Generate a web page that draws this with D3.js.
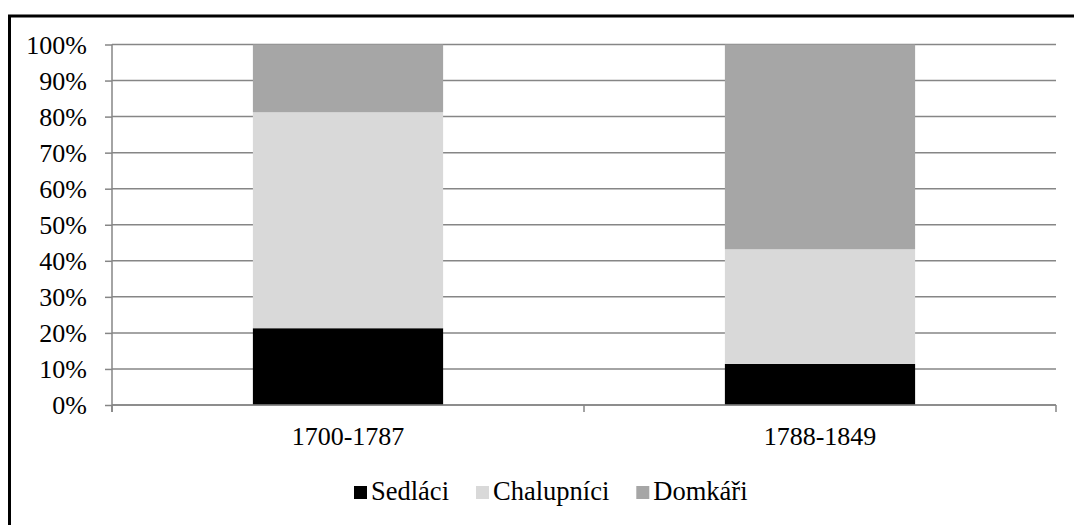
<!DOCTYPE html>
<html>
<head>
<meta charset="utf-8">
<script src="https://cdn.jsdelivr.net/npm/d3@7"></script>
</head>
<body style="margin:0">
<script>
// data
const categories = ['1700-1787', '1788-1849'];
const seriesNames = ['Sedláci', 'Chalupníci', 'Domkáři'];
const sedlaci = [21.3, 11.4];
const chalupnici = [59.9, 31.8];
const domkari = [18.8, 56.8];
const yTicks = [0, 10, 20, 30, 40, 50, 60, 70, 80, 90, 100];

const colors = ['#000000', '#d9d9d9', '#a6a6a6'];
const width = 1074;
const height = 525;
const plot = { left: 112, right: 1056, top: 44.5, bottom: 405 };

const svg = d3.select('body')
  .append('svg')
  .attr('width', width)
  .attr('height', height)
  .attr('font-family', 'Liberation Serif');

// outer frame (right and bottom edges run off the picture)
svg.append('rect')
  .attr('x', 9.5)
  .attr('y', 16)
  .attr('width', 1200)
  .attr('height', 700)
  .attr('fill', 'none')
  .attr('stroke', '#000')
  .attr('stroke-width', 3);

// scales
const xScale = d3.scaleBand()
  .domain(categories)
  .range([plot.left, plot.right])
  .paddingInner(0.597)
  .paddingOuter(0.2985);

const yScale = d3.scaleLinear()
  .domain([0, 100])
  .range([plot.bottom, plot.top]);

// gridlines
svg.append('g')
  .selectAll('line')
  .data(yTicks)
  .enter()
  .append('line')
  .attr('x1', plot.left)
  .attr('x2', plot.right)
  .attr('y1', d => yScale(d))
  .attr('y2', d => yScale(d))
  .attr('stroke', '#868686')
  .attr('stroke-width', 1.5);

// stacked bars
const rows = categories.map((c, i) => ({
  cat: c,
  'Sedláci': sedlaci[i],
  'Chalupníci': chalupnici[i],
  'Domkáři': domkari[i]
}));
const stacked = d3.stack().keys(seriesNames)(rows);

svg.append('g')
  .selectAll('g')
  .data(stacked)
  .enter()
  .append('g')
  .attr('fill', (d, i) => colors[i])
  .selectAll('rect')
  .data(d => d)
  .enter()
  .append('rect')
  .attr('x', d => xScale(d.data.cat))
  .attr('y', d => yScale(d[1]))
  .attr('width', xScale.bandwidth())
  .attr('height', d => yScale(d[0]) - yScale(d[1]));

// y axis
const yAxis = svg.append('g')
  .attr('transform', `translate(${plot.left},0)`)
  .call(d3.axisLeft(yScale).tickValues(yTicks).tickSize(7).tickPadding(18).tickFormat(d => d + '%'));
yAxis.attr('font-family', 'Liberation Serif').attr('font-size', 26);
yAxis.selectAll('line, path').attr('stroke', '#868686').attr('stroke-width', 1.5);
yAxis.select('.domain').attr('d', `M0,${plot.top}V${plot.bottom + 7}`);
yAxis.selectAll('text')
  .attr('dy', '0.34em')
  .attr('fill', '#000');

// x axis: category boundaries get the ticks
const bounds = [plot.left, (plot.left + plot.right) / 2, plot.right];
const xAxis = svg.append('g');
xAxis.append('line')
  .attr('x1', plot.left)
  .attr('x2', plot.right)
  .attr('y1', plot.bottom)
  .attr('y2', plot.bottom)
  .attr('stroke', '#868686')
  .attr('stroke-width', 1.5);
xAxis.selectAll('.tick')
  .data(bounds)
  .enter()
  .append('line')
  .attr('x1', d => d)
  .attr('x2', d => d)
  .attr('y1', plot.bottom)
  .attr('y2', plot.bottom + 7)
  .attr('stroke', '#868686')
  .attr('stroke-width', 1.5);
xAxis.selectAll('text')
  .data(categories)
  .enter()
  .append('text')
  .attr('x', d => xScale(d) + xScale.bandwidth() / 2)
  .attr('y', 445)
  .attr('text-anchor', 'middle')
  .attr('font-size', 26)
  .style('font-family', '"Liberation Serif"')
  .text(d => d);

// legend
const legend = svg.append('g');
let lx = 354;
seriesNames.forEach((name, i) => {
  legend.append('rect')
    .attr('x', lx)
    .attr('y', 486)
    .attr('width', 13)
    .attr('height', 13)
    .attr('fill', colors[i]);
  const t = legend.append('text')
    .attr('x', lx + 17)
    .attr('y', 500)
    .attr('font-size', 26.5)
    .style('font-family', '"Liberation Serif"')
    .text(name);
  lx += 17 + t.node().getComputedTextLength() + 27;
});
</script>
</body>
</html>
